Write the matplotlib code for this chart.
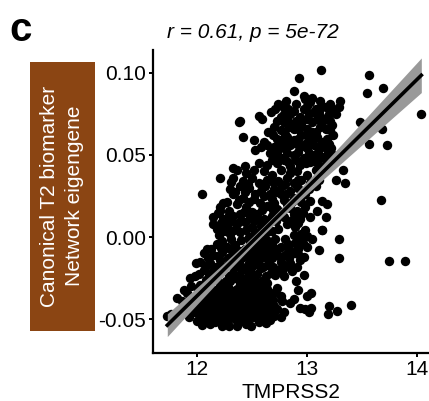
import matplotlib
matplotlib.use("Agg")
import matplotlib.pyplot as plt
from matplotlib.patches import Rectangle
import numpy as np

plt.rcParams['font.family'] = ['Liberation Sans', 'DejaVu Sans']

# ---------------- DATA (TMPRSS2, eigengene) ----------------
outliers = [
    (13.13, 0.102), (12.93, 0.097), (13.56, 0.099), (13.55, 0.088), (13.69, 0.091),
    (14.04, 0.075), (13.48, 0.070), (13.68, 0.066), (13.56, 0.057), (13.73, 0.056),
    (13.67, 0.0225), (13.75, -0.0145), (13.89, -0.0145), (13.40, -0.0415), (13.27, -0.045),
    (13.20, -0.042), (13.19, -0.047), (13.29, -0.001), (13.29, -0.013), (13.14, 0.004),
    (13.35, 0.033), (13.33, 0.041), (13.26, 0.035), (13.30, 0.083), (12.05, 0.026),
    (12.21, 0.036), (11.99, -0.016), (11.73, -0.048), (11.76, -0.047), (11.82, -0.037),
    (11.88, -0.032), (11.94, -0.025), (12.38, 0.070), (12.39, 0.071), (12.42, 0.061),
    (12.56, 0.074), (12.59, 0.072), (12.33, 0.042), (12.36, 0.041), (12.15, 0.008),
    (12.21, 0.016), (12.24, 0.021),
]

upper_cluster = [
    (12.88, 0.089), (12.97, 0.086),
    (12.98, 0.084), (13.03, 0.082), (13.12, 0.083),
    (12.74, 0.081), (12.77, 0.080), (12.83, 0.078), (13.00, 0.080), (13.08, 0.078),
    (13.17, 0.079), (13.24, 0.078), (13.29, 0.079),
    (12.67, 0.076), (12.79, 0.075), (12.85, 0.075), (12.94, 0.073), (13.06, 0.076),
    (13.12, 0.074), (13.20, 0.075),
    (12.73, 0.071), (12.79, 0.070), (12.85, 0.069), (12.95, 0.069), (13.05, 0.070),
    (13.14, 0.070), (13.18, 0.072), (13.23, 0.068),
    (12.65, 0.064), (12.76, 0.065), (12.80, 0.063), (12.88, 0.066), (12.95, 0.062),
    (13.08, 0.064), (13.17, 0.066), (13.24, 0.062),
    (12.52, 0.059), (12.61, 0.058), (12.73, 0.060), (12.82, 0.061), (12.88, 0.059),
    (13.03, 0.059), (13.09, 0.061), (13.14, 0.058), (13.20, 0.057),
    (12.53, 0.053), (12.64, 0.056), (12.70, 0.055), (12.79, 0.054), (12.85, 0.056),
    (12.94, 0.055), (13.00, 0.054), (13.12, 0.055), (13.17, 0.054),
    (12.70, 0.050), (12.76, 0.048), (12.88, 0.050), (12.97, 0.048), (13.06, 0.050),
    (13.14, 0.049), (13.24, 0.050), (13.30, 0.049),
    (12.44, 0.043), (12.56, 0.045), (12.64, 0.044), (12.73, 0.045), (12.79, 0.047),
    (12.85, 0.043), (12.94, 0.044), (13.03, 0.046), (13.12, 0.043), (13.21, 0.045),
    (12.81, 0.083), (12.90, 0.081), (13.05, 0.085), (13.14, 0.080), (13.21, 0.081),
    (12.71, 0.078), (12.88, 0.077), (12.97, 0.078), (13.02, 0.075), (13.11, 0.077), (13.26, 0.075),
    (12.76, 0.073), (12.82, 0.072), (12.90, 0.071), (13.00, 0.072), (13.09, 0.072), (13.21, 0.071),
    (12.70, 0.067), (12.84, 0.067), (12.92, 0.066), (13.00, 0.066), (13.05, 0.064),
    (13.12, 0.067), (13.21, 0.065),
    (12.69, 0.062), (12.78, 0.060), (12.92, 0.060), (12.99, 0.062), (13.06, 0.061), (13.18, 0.060),
    (12.58, 0.055), (12.75, 0.057), (12.82, 0.057), (12.91, 0.057), (12.98, 0.057),
    (13.06, 0.056), (13.22, 0.054),
    (12.66, 0.051), (12.73, 0.052), (12.82, 0.051), (12.92, 0.052), (13.02, 0.051),
    (13.10, 0.052), (13.19, 0.051),
    (12.68, 0.047), (12.83, 0.046), (12.90, 0.047), (12.99, 0.045), (13.08, 0.046), (13.17, 0.047),
]

middle_cluster = [
    (12.45, 0.039), (12.52, 0.041), (12.61, 0.040), (12.68, 0.038), (12.76, 0.041),
    (12.85, 0.039), (12.91, 0.040), (13.00, 0.038), (13.08, 0.041), (13.14, 0.039),
    (12.33, 0.036), (12.42, 0.034), (12.50, 0.036), (12.56, 0.033), (12.64, 0.035),
    (12.74, 0.034), (12.82, 0.036), (12.88, 0.033), (12.95, 0.035), (13.03, 0.033), (13.11, 0.035),
    (12.30, 0.029), (12.39, 0.031), (12.47, 0.030), (12.58, 0.028), (12.62, 0.031),
    (12.70, 0.029), (12.77, 0.031), (12.85, 0.028), (12.92, 0.030), (13.02, 0.029), (13.08, 0.031),
    (12.33, 0.026), (12.42, 0.024), (12.52, 0.023), (12.61, 0.025), (12.68, 0.023),
    (12.76, 0.026), (12.88, 0.024), (12.95, 0.025), (13.03, 0.022), (13.14, 0.022), (13.18, 0.020),
    (12.21, 0.018), (12.29, 0.016), (12.36, 0.020), (12.45, 0.018), (12.50, 0.015),
    (12.64, 0.019), (12.73, 0.017), (12.82, 0.020), (12.91, 0.016), (12.98, 0.018), (13.09, 0.016),
    (12.15, 0.012), (12.24, 0.011), (12.33, 0.013), (12.39, 0.014), (12.48, 0.012),
    (12.55, 0.014), (12.61, 0.011), (12.68, 0.013), (12.79, 0.012), (12.88, 0.014),
    (12.94, 0.011), (13.03, 0.012), (13.17, 0.012),
    (12.18, 0.005), (12.27, 0.007), (12.36, 0.008), (12.44, 0.009), (12.50, 0.006),
    (12.58, 0.007), (12.65, 0.008), (12.74, 0.005), (12.82, 0.008), (12.89, 0.006),
    (12.98, 0.004), (13.14, 0.004),
    (12.20, 0.001), (12.30, 0.002), (12.39, 0.003), (12.47, 0.000), (12.55, 0.001),
    (12.64, 0.003), (12.71, -0.001), (12.88, 0.001), (12.95, 0.002), (13.05, -0.001),
    (12.09, -0.007), (12.18, -0.004), (12.27, -0.006), (12.35, -0.005), (12.44, -0.007),
    (12.52, -0.004), (12.61, -0.006), (12.68, -0.005), (12.76, -0.006), (12.83, -0.004),
    (12.92, -0.007), (13.00, -0.006), (13.11, -0.008),
    (12.06, -0.010), (12.15, -0.011), (12.23, -0.009), (12.33, -0.010), (12.42, -0.012),
    (12.52, -0.010), (12.59, -0.011), (12.70, -0.009), (12.80, -0.011), (12.88, -0.010), (12.97, -0.012),
    (12.03, -0.015), (12.12, -0.016), (12.21, -0.014), (12.30, -0.017), (12.38, -0.015),
    (12.47, -0.016), (12.56, -0.014), (12.65, -0.017), (12.76, -0.015), (12.85, -0.016), (12.94, -0.014),
    (12.06, -0.020), (12.15, -0.021), (12.23, -0.019), (12.33, -0.022), (12.41, -0.020),
    (12.48, -0.021), (12.58, -0.019), (12.67, -0.022), (12.74, -0.020), (12.86, -0.021), (12.97, -0.023),
    (12.38, -0.018), (12.45, -0.018), (12.52, -0.017), (12.60, -0.018),
    (12.40, -0.013), (12.49, -0.013), (12.57, -0.012), (12.63, -0.013),
    (12.40, -0.002), (12.48, -0.003), (12.57, -0.002), (12.62, -0.001),
    (12.45, 0.004), (12.53, 0.003), (12.60, 0.004),
    (12.52, 0.0095), (12.58, 0.010), (12.66, 0.010),
    (12.31, 0.0335), (12.46, 0.0325), (12.60, 0.0325), (12.69, 0.0335), (12.80, 0.0325), (12.92, 0.0345),
    (12.35, 0.0275), (12.44, 0.0275), (12.53, 0.0265), (12.66, 0.0265), (12.73, 0.0275),
    (12.81, 0.0265), (12.98, 0.0265),
    (12.27, 0.0215), (12.38, 0.0225), (12.47, 0.0215), (12.57, 0.0205), (12.70, 0.0205),
    (12.79, 0.0225), (12.86, 0.0215), (12.95, 0.0215),
    (12.19, 0.0145), (12.29, 0.0135), (12.43, 0.0155), (12.59, 0.0165), (12.69, 0.0165),
    (12.77, 0.0155), (12.85, 0.0175), (12.96, 0.0145),
    (12.22, 0.0085), (12.31, 0.0095), (12.40, 0.0105), (12.72, 0.0095), (12.86, 0.0105), (12.92, 0.0085),
    (12.25, 0.0035), (12.34, 0.0045), (12.68, 0.0035), (12.93, -0.0015), (13.00, 0.0005),
    (12.23, -0.0025), (12.31, -0.0015), (12.65, -0.0025), (12.80, -0.0015), (12.89, -0.0035), (12.96, -0.0035),
    (12.13, -0.0075), (12.22, -0.0065), (12.30, -0.0075), (12.39, -0.0085), (12.48, -0.0085),
    (12.56, -0.0075), (12.65, -0.0085), (12.73, -0.0075), (12.84, -0.0075),
    (12.10, -0.0125), (12.19, -0.0115), (12.28, -0.0125), (12.36, -0.0115), (12.45, -0.0105),
    (12.54, -0.0125), (12.68, -0.0125), (12.75, -0.0115), (12.84, -0.0125), (12.92, -0.0105),
    (12.08, -0.0175), (12.17, -0.0185), (12.26, -0.0175), (12.34, -0.0185), (12.69, -0.0185),
    (12.80, -0.0185), (12.91, -0.0185),
    (12.02, -0.0225), (12.11, -0.0235), (12.20, -0.0225), (12.29, -0.0235), (12.38, -0.0235),
    (12.46, -0.0235), (12.55, -0.0225), (12.63, -0.0235), (12.77, -0.0215),
]

lower_cluster = [
    (11.98, -0.024), (12.08, -0.026), (12.17, -0.025), (12.26, -0.027), (12.35, -0.025),
    (12.42, -0.026), (12.52, -0.024), (12.59, -0.027), (12.71, -0.023), (12.79, -0.024), (12.90, -0.027),
    (11.95, -0.030), (12.03, -0.029), (12.12, -0.031), (12.21, -0.030), (12.30, -0.032),
    (12.39, -0.029), (12.48, -0.031), (12.56, -0.030), (12.64, -0.028), (12.73, -0.031), (12.92, -0.032),
    (11.91, -0.034), (12.00, -0.036), (12.08, -0.035), (12.15, -0.034), (12.24, -0.036),
    (12.33, -0.035), (12.41, -0.037), (12.50, -0.034), (12.58, -0.036), (12.67, -0.035),
    (12.76, -0.036), (12.88, -0.038), (13.00, -0.036), (13.04, -0.034),
    (11.86, -0.039), (11.94, -0.041), (12.03, -0.040), (12.11, -0.039), (12.20, -0.041),
    (12.27, -0.040), (12.36, -0.042), (12.44, -0.039), (12.53, -0.041), (12.61, -0.040),
    (12.70, -0.042), (12.77, -0.039), (12.85, -0.040), (12.94, -0.043), (13.04, -0.043),
    (11.89, -0.045), (11.97, -0.046), (12.06, -0.044), (12.15, -0.046), (12.23, -0.045),
    (12.30, -0.047), (12.39, -0.044), (12.47, -0.046), (12.55, -0.045), (12.64, -0.047),
    (12.73, -0.044), (12.79, -0.046), (12.98, -0.044), (13.02, -0.046),
    (12.00, -0.051), (12.09, -0.050), (12.18, -0.049), (12.27, -0.051), (12.35, -0.050),
    (12.44, -0.052), (12.52, -0.049), (12.61, -0.050), (12.70, -0.048), (12.76, -0.049),
    (12.12, -0.053), (12.23, -0.054), (12.36, -0.054), (12.45, -0.053), (12.56, -0.052),
    (12.02, -0.0475), (12.11, -0.048), (12.20, -0.047), (12.34, -0.048), (12.43, -0.047),
    (12.58, -0.048), (12.68, -0.047),
    (11.99, -0.043), (12.08, -0.042), (12.17, -0.043), (12.25, -0.042), (12.33, -0.043),
    (12.42, -0.042), (12.51, -0.043), (12.58, -0.042), (12.66, -0.043),
    (12.04, -0.038), (12.13, -0.037), (12.21, -0.038), (12.30, -0.038), (12.38, -0.037),
    (12.46, -0.038), (12.55, -0.038), (12.63, -0.037),
    (12.07, -0.033), (12.16, -0.032), (12.25, -0.033), (12.34, -0.033), (12.44, -0.032),
    (12.52, -0.033), (12.60, -0.032),
    (12.12, -0.027), (12.21, -0.028), (12.30, -0.027), (12.39, -0.028), (12.47, -0.027),
    (12.55, -0.028),
    (11.93, -0.0485), (12.05, -0.0535), (12.16, -0.0515), (12.29, -0.0545), (12.40, -0.0505),
    (12.49, -0.0545), (12.63, -0.0525),
    (11.96, -0.0425), (12.05, -0.0455), (12.13, -0.0435), (12.22, -0.0505), (12.30, -0.0445),
    (12.37, -0.0465), (12.48, -0.0415), (12.56, -0.0475), (12.65, -0.0405),
    (11.97, -0.0385), (12.06, -0.0365), (12.10, -0.0445), (12.19, -0.0355), (12.27, -0.0375),
    (12.35, -0.0395), (12.43, -0.0355), (12.50, -0.0395), (12.60, -0.0345),
    (12.01, -0.0315), (12.10, -0.0295), (12.19, -0.0325), (12.28, -0.0305), (12.36, -0.0315),
    (12.45, -0.0295), (12.53, -0.0285),
    (12.14, -0.0415), (12.24, -0.0395), (12.32, -0.0405), (12.40, -0.0445), (12.58, -0.0445),
    (12.69, -0.0385), (12.71, -0.0335),
    (12.04, -0.0495), (12.13, -0.0455), (12.26, -0.0485), (12.37, -0.0515), (12.47, -0.0495),
    (12.57, -0.0505), (12.66, -0.0505),
    (12.00, -0.0455), (12.18, -0.0445), (12.28, -0.0425), (12.36, -0.0455), (12.45, -0.0445),
    (12.54, -0.0465), (12.62, -0.0445),
    (12.01, -0.0415), (12.09, -0.0405), (12.19, -0.0395), (12.31, -0.0365), (12.39, -0.0395),
    (12.48, -0.0365), (12.56, -0.0405),
    (12.12, -0.0355), (12.22, -0.0335), (12.29, -0.0345), (12.39, -0.0335), (12.47, -0.0335),
    (12.56, -0.0325), (12.64, -0.0315),
]

x_ticks = [12, 13, 14]
y_ticks = [-0.05, 0.00, 0.05, 0.10]
y_tick_labels = ['-0.05', '0.00', '0.05', '0.10']
title_text = 'r = 0.61, p = 5e-72'
y_label = 'Canonical T2 biomarker\nNetwork eigengene'

pts = np.array(outliers + upper_cluster + middle_cluster + lower_cluster)
x = pts[:, 0]
y = pts[:, 1]

# linear fit + 95% confidence band
slope, intercept = np.polyfit(x, y, 1)
n = len(x)
resid = y - (slope * x + intercept)
s = np.sqrt(np.sum(resid ** 2) / (n - 2))
xx = np.linspace(x.min(), x.max(), 100)
yy = slope * xx + intercept
se = s * np.sqrt(1 / n + (xx - x.mean()) ** 2 / np.sum((x - x.mean()) ** 2))
ci = 1.96 * se

fig = plt.figure(figsize=(4.29, 4.01), dpi=100)
ax = fig.add_axes([153 / 429, 48 / 401, 276 / 429, 303 / 401])

ax.scatter(x, y, s=46, color='black', linewidths=0, zorder=2)
ax.fill_between(xx, yy - ci, yy + ci, color='#999999', linewidth=0, zorder=3)
ax.plot(xx, yy, color='black', linewidth=2.6, zorder=4)

ax.set_xlim(11.6, 14.11)
ax.set_ylim(-0.0707, 0.114)
ax.set_xticks(x_ticks)
ax.set_yticks(y_ticks)
ax.set_yticklabels(y_tick_labels)
ax.tick_params(labelsize=15, length=3, width=1.4, color='black', pad=2)
for side in ['top', 'right']:
    ax.spines[side].set_visible(False)
for side in ['left', 'bottom']:
    ax.spines[side].set_linewidth(1.6)

ax.set_xlabel('TMPRSS2', fontsize=15, labelpad=3)

fig.text(253 / 429, 1 - 32 / 401, title_text, fontsize=15, style='italic',
         ha='center', va='center')
fig.text(9 / 429, 1 - 30 / 401, 'c', fontsize=29, fontweight='bold',
         ha='left', va='center')

fig.patches.append(Rectangle((30 / 429, 1 - 331 / 401), 65 / 429, 269 / 401,
                             transform=fig.transFigure, facecolor='#8B4513',
                             edgecolor='none'))
fig.text(62 / 429, 1 - 196 / 401, y_label, fontsize=15, color='white',
         rotation=90, ha='center', va='center', linespacing=1.45)

fig.savefig('out.png', dpi=100)
